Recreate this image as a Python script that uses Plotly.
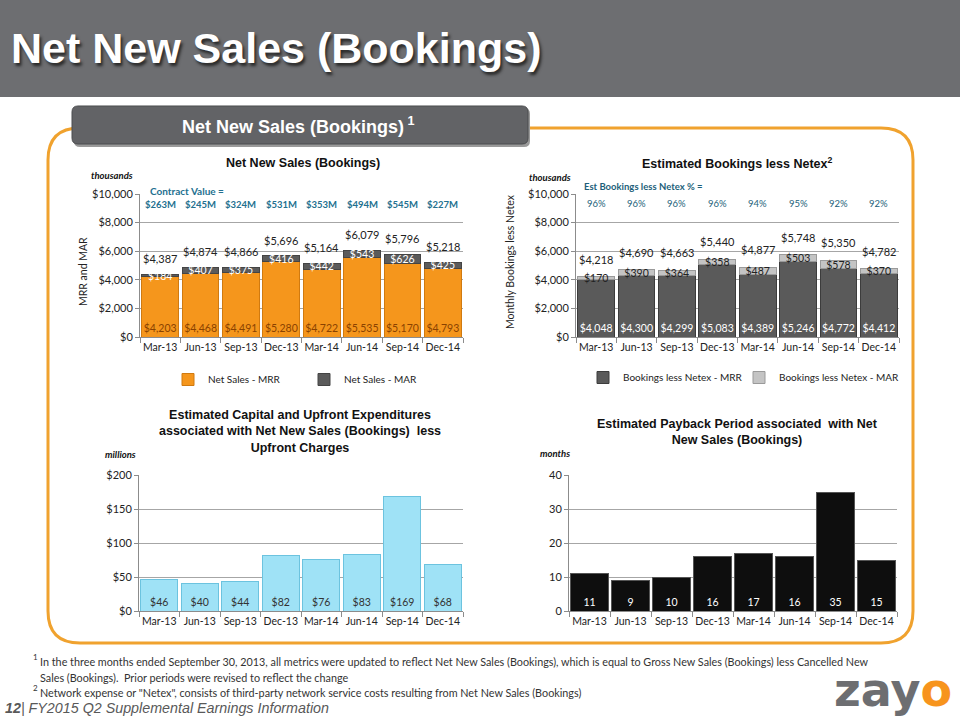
import plotly.graph_objects as go

# ---------------- data ----------------
quarters = ["Mar-13", "Jun-13", "Sep-13", "Dec-13", "Mar-14", "Jun-14", "Sep-14", "Dec-14"]

net_mrr = [4203, 4468, 4491, 5280, 4722, 5535, 5170, 4793]
net_mar = [184, 407, 375, 416, 442, 543, 626, 425]
net_total = [4387, 4874, 4866, 5696, 5164, 6079, 5796, 5218]
contract_value_m = [263, 245, 324, 531, 353, 494, 545, 227]

netex_mrr = [4048, 4300, 4299, 5083, 4389, 5246, 4772, 4412]
netex_mar = [170, 390, 364, 358, 487, 503, 578, 370]
netex_total = [4218, 4690, 4663, 5440, 4877, 5748, 5350, 4782]
netex_pct = [96, 96, 96, 96, 94, 95, 92, 92]

capex_m = [46, 40, 44, 82, 76, 83, 169, 68]
payback_months = [11, 9, 10, 16, 17, 16, 35, 15]

W, H = 960, 720


def px(x):
    return x / W


def py(y):
    return 1 - y / H


CAL = "Lato, 'Open Sans', sans-serif"
ARI = "'Liberation Sans', Arial, sans-serif"
TEAL = "#23708f"
ORANGE = "#f5961c"

fig = go.Figure()

# ---------- chart 1: Net New Sales ----------
fig.add_trace(go.Bar(
    x=quarters, y=net_mrr, name="Net Sales - MRR",
    marker=dict(color=ORANGE, line=dict(color="#d07a10", width=1)),
    text=[f"${v:,}" for v in net_mrr], textposition="inside", insidetextanchor="start",
    textangle=0, constraintext="none",
    textfont=dict(family=CAL, size=10.5, color="#8a4200"),
    xaxis="x", yaxis="y", legend="legend"))
fig.add_trace(go.Bar(
    x=quarters, y=net_mar, name="Net Sales - MAR",
    marker=dict(color="#5b5b5b", line=dict(color="#444444", width=1)),
    text=[f"${v:,}" for v in net_mar], textposition="inside", insidetextanchor="middle",
    textangle=0, constraintext="none",
    textfont=dict(family=CAL, size=10.5, color="#ffffff"),
    xaxis="x", yaxis="y", legend="legend3"))

# ---------- chart 2: Bookings less Netex ----------
fig.add_trace(go.Bar(
    x=quarters, y=netex_mrr, name="Bookings less Netex - MRR",
    marker=dict(color="#5a5a5a", line=dict(color="#3c3c3c", width=1)),
    text=[f"${v:,}" for v in netex_mrr], textposition="inside", insidetextanchor="start",
    textangle=0, constraintext="none",
    textfont=dict(family=CAL, size=10.5, color="#ffffff"),
    xaxis="x2", yaxis="y2", legend="legend2"))
fig.add_trace(go.Bar(
    x=quarters, y=netex_mar, name="Bookings less Netex - MAR",
    marker=dict(color="#c4c4c4", line=dict(color="#9a9a9a", width=1)),
    text=[f"${v:,}" for v in netex_mar], textposition="inside", insidetextanchor="middle",
    textangle=0, constraintext="none",
    textfont=dict(family=CAL, size=10.5, color="#222222"),
    xaxis="x2", yaxis="y2", legend="legend4"))

# ---------- chart 3: Capex ----------
fig.add_trace(go.Bar(
    x=quarters, y=capex_m, name="Capex", showlegend=False,
    marker=dict(color="#9fe2f6", line=dict(color="#6cc3df", width=1)),
    text=[f"${v:,}" for v in capex_m], textposition="inside", insidetextanchor="start",
    textangle=0, constraintext="none",
    textfont=dict(family=CAL, size=10.5, color="#333333"),
    xaxis="x3", yaxis="y3"))

# ---------- chart 4: Payback ----------
fig.add_trace(go.Bar(
    x=quarters, y=payback_months, name="Payback", showlegend=False,
    marker=dict(color="#0e0e0e", line=dict(color="#555555", width=1)),
    text=[str(v) for v in payback_months], textposition="inside", insidetextanchor="start",
    textangle=0, constraintext="none",
    textfont=dict(family=CAL, size=10.5, color="#ffffff"),
    xaxis="x4", yaxis="y4"))

tickfont = dict(family=CAL, size=10.5, color="#222222")


def xax(x0, x1, anchor):
    return dict(domain=[px(x0), px(x1)], anchor=anchor, type="category",
                showline=True, linecolor="#8c8c8c", linewidth=1, tickangle=0,
                ticks="outside", tickson="boundaries", ticklen=5, tickcolor="#8c8c8c",
                showgrid=False, tickfont=tickfont, fixedrange=True, automargin=False)


def yax(y_top, y_bot, anchor, rng, dtick, prefix=""):
    return dict(domain=[py(y_bot), py(y_top)], anchor=anchor, range=rng, dtick=dtick,
                tickprefix=prefix, tickformat=",d", showgrid=True, gridcolor="#a6a6a6",
                showline=True, linecolor="#8c8c8c", ticks="outside", ticklen=4,
                tickcolor="#8c8c8c", tickfont=dict(family=CAL, size=11, color="#222222"),
                zeroline=False, fixedrange=True, automargin=False)


annotations = []


def ann(x, y, text, size=11, color="#222222", family=CAL, xanchor="center", yanchor="middle", **kw):
    d = dict(x=x, y=y, xref="paper", yref="paper", text=text, showarrow=False,
             font=dict(family=family, size=size, color=color), xanchor=xanchor, yanchor=yanchor)
    d.update(kw)
    annotations.append(d)


# totals and top rows
for q, t, cv in zip(quarters, net_total, contract_value_m):
    annotations.append(dict(x=q, y=t, xref="x", yref="y", text=f"${t:,}", showarrow=False,
                            yanchor="bottom", yshift=7, font=dict(family=CAL, size=11, color="#222222")))
    annotations.append(dict(x=q, y=9300, xref="x", yref="y", text=f"<b>${cv}M</b>", showarrow=False,
                            font=dict(family=CAL, size=9.5, color=TEAL)))
for q, t, pc in zip(quarters, netex_total, netex_pct):
    annotations.append(dict(x=q, y=t, xref="x2", yref="y2", text=f"${t:,}", showarrow=False,
                            yanchor="bottom", yshift=9, font=dict(family=CAL, size=11, color="#222222")))
    annotations.append(dict(x=q, y=9350, xref="x2", yref="y2", text=f"{pc}%", showarrow=False,
                            font=dict(family=CAL, size=9.5, color="#1d5f7a")))

ann(px(148), py(191), "<b>Contract Value =</b>", size=10, color=TEAL, xanchor="left")
ann(px(582), py(187), "<b>Est Bookings less Netex % =</b>", size=9.5, color="#1d5f7a", xanchor="left")

# chart titles
ann(px(303), py(163), "<b>Net New Sales (Bookings)</b>", size=12.5, family=ARI, color="#111111")
ann(px(737), py(163), "<b>Estimated Bookings less Netex<sup>2</sup></b>", size=12.5, family=ARI, color="#111111")
ann(px(300), py(431), "<b>Estimated Capital and Upfront Expenditures<br>associated with Net New Sales (Bookings)  less<br>Upfront Charges</b>",
    size=12.5, family=ARI, color="#111111")
ann(px(737), py(432), "<b>Estimated Payback Period associated  with Net<br>New Sales (Bookings)</b>",
    size=12.5, family=ARI, color="#111111")

# units
ann(px(112), py(175), "<b><i>thousands</i></b>", size=9.5, color="#111111")
ann(px(550), py(177), "<b><i>thousands</i></b>", size=9.5, color="#111111")
ann(px(120), py(454), "<b><i>millions</i></b>", size=9.5, color="#111111")
ann(px(555), py(453), "<b><i>months</i></b>", size=9.5, color="#111111")

# y-axis titles
ann(px(83), py(272), "MRR and MAR", size=10.5, textangle=-90)
ann(px(510), py(262), "Monthly Bookings less Netex", size=10.5, textangle=-90)

# header title
ann(px(9), py(48), "<b>Net New Sales (Bookings)</b>", size=43, family=ARI, color="#ffffff",
    xanchor="left")
annotations[-1]["font"]["shadow"] = "2px 3px 3px #2a2a2a"
# tab label
ann(px(298), py(125), "<b>Net New Sales (Bookings)<sup> 1</sup></b>", size=18, family=ARI, color="#ffffff")

# footnotes
fn = "#333333"
ann(px(31), py(657), "1", size=8, color=fn, xanchor="left")
ann(px(38), py(661), "In the three months ended September 30, 2013, all metrics were updated to reflect Net New Sales (Bookings), which is equal to Gross New Sales (Bookings) less Cancelled New",
    size=10.8, color=fn, xanchor="left")
ann(px(38), py(677), "Sales (Bookings).  Prior periods were revised to reflect the change", size=10.8, color=fn, xanchor="left")
ann(px(31), py(688), "2", size=8, color=fn, xanchor="left")
ann(px(38), py(692), "Network expense or \"Netex\", consists of third-party network service costs resulting from Net New Sales (Bookings)",
    size=10.8, color=fn, xanchor="left")
ann(px(3), py(708), "<b><i>12</i></b><i>| FY2015 Q2 Supplemental Earnings Information</i>", size=14.3, family=ARI,
    color="#595959", xanchor="left")
# logo
ann(px(893), py(690), "<b><span style='color:#6d6e71'>zay</span><span style='color:#f7941d'>o</span></b>",
    size=46, family="'DejaVu Sans', sans-serif", color="#6d6e71")


def rounded(x0, y0, x1, y1, r):
    X = lambda v: f"{px(v):.5f}"
    Y = lambda v: f"{py(v):.5f}"
    return (f"M {X(x0 + r)},{Y(y0)} L {X(x1 - r)},{Y(y0)} Q {X(x1)},{Y(y0)} {X(x1)},{Y(y0 + r)} "
            f"L {X(x1)},{Y(y1 - r)} Q {X(x1)},{Y(y1)} {X(x1 - r)},{Y(y1)} "
            f"L {X(x0 + r)},{Y(y1)} Q {X(x0)},{Y(y1)} {X(x0)},{Y(y1 - r)} "
            f"L {X(x0)},{Y(y0 + r)} Q {X(x0)},{Y(y0)} {X(x0 + r)},{Y(y0)} Z")


shapes = [
    dict(type="rect", xref="paper", yref="paper", x0=0, x1=1, y0=py(97), y1=1,
         fillcolor="#6d6e71", line=dict(width=0), layer="below"),
    dict(type="path", xref="paper", yref="paper", path=rounded(48, 128, 913, 643, 32),
         line=dict(color="#f0a22e", width=3), fillcolor="rgba(0,0,0,0)", layer="below"),
    dict(type="path", xref="paper", yref="paper", path=rounded(74, 108, 530, 147, 6),
         line=dict(width=0), fillcolor="#9a9a9a", layer="above"),
    dict(type="path", xref="paper", yref="paper", path=rounded(72, 106, 528, 144, 6),
         line=dict(color="#4b4c4e", width=1), fillcolor="#626366", layer="above"),
]


def leg(x, y):
    return dict(orientation="h", x=px(x), y=py(y), xanchor="left", yanchor="top",
                font=dict(family=CAL, size=10, color="#222222"), itemwidth=30,
                bgcolor="rgba(0,0,0,0)")


fig.update_layout(
    width=W, height=H, margin=dict(l=0, r=0, t=0, b=0, pad=0, autoexpand=False),
    paper_bgcolor="#ffffff", plot_bgcolor="#ffffff",
    barmode="stack", bargap=0.09,
    xaxis=xax(140, 463, "y"), yaxis=yax(194, 337, "x", [0, 10000], 2000, "$"),
    xaxis2=xax(576, 899, "y2"), yaxis2=yax(194, 337, "x2", [0, 10000], 2000, "$"),
    xaxis3=xax(139, 463, "y3"), yaxis3=yax(475, 611, "x3", [0, 200], 50, "$"),
    xaxis4=xax(569, 897, "y4"), yaxis4=yax(475, 611, "x4", [0, 40], 10, ""),
    legend=leg(168, 365), legend3=leg(304, 365),
    legend2=leg(583, 363), legend4=leg(739, 363),
    annotations=annotations, shapes=shapes, showlegend=True,
)

post = (
    "var h=document.documentElement, b=document.body;"
    "h.style.margin='0'; b.style.margin='0'; b.style.overflow='hidden';"
)

fig.write_html(
    "out.html",
    config={"displayModeBar": False, "staticPlot": True},
    post_script=post,
)
